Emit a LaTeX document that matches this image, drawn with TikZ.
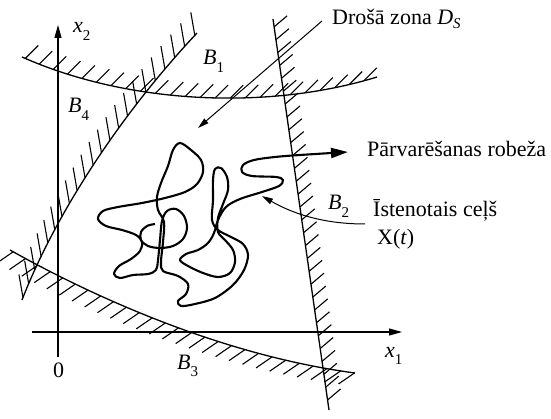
\documentclass[tikz,border=0pt]{standalone}
\usepackage{fontspec}
\setmainfont{Liberation Serif}
\usetikzlibrary{arrows.meta,decorations.markings}
\newcommand{\lsub}[1]{\raisebox{-0.33em}{\fontsize{15}{15}\selectfont #1}}
\tikzset{
  lbl/.style={font=\fontsize{22}{24}\selectfont, inner sep=0pt, anchor=base west},
  bound/.style={line width=1.3pt},
  axis/.style={line width=1.2pt, -{Triangle[length=13pt,width=7pt]}},
  leader/.style={line width=1pt, -{Triangle[length=11pt,width=6pt]}},
  walk/.style={line width=2.1pt, line join=round, -{Triangle[length=17pt,width=10pt]}},
  hatched/.style n args={3}{postaction={decorate,decoration={markings,
     mark=between positions #1 and 1 step #2 with {\pgftransformresetnontranslations
       \draw[line width=1.1pt] (0,0) -- #3;}}}}
}
\begin{document}
\begin{tikzpicture}[x=1pt,y=-1pt]
\useasboundingbox (0,0) rectangle (551,419);

% axes
\coordinate (ox) at (32,332);
\coordinate (x1tip) at (402,332);
\coordinate (oy) at (58,357);
\coordinate (x2tip) at (58,25);
\draw[axis] (ox) -- (x1tip);
\draw[axis] (oy) -- (x2tip);

% boundaries
\draw[bound, hatched={0.01}{15pt}{(13,-13)}] (22,57) .. controls (130,105) and (270,110) .. (377,77);
\draw[bound, hatched={0.01}{15pt}{(-4,-23)}] (197,33) .. controls (120,115) and (55,215) .. (22,300);
\draw[bound, hatched={0.02}{13pt}{(13,-11)}] (273,19) -- (329,410);
\draw[bound, hatched={0.01}{14pt}{(-16,11)}] (10,250) .. controls (90,295) and (220,355) .. (355,373);

% labels
\node[lbl] (x2) at (73,33) {\textit{x}\lsub{2}};
\node[lbl] (b1) at (203,65) {\textit{B}\lsub{1}};
\node[lbl] (b4) at (68,113) {\textit{B}\lsub{4}};
\node[lbl] (b3) at (177,369) {\textit{B}\lsub{3}};
\node[lbl] (b2) at (328,210) {\textit{B}\lsub{2}};
\node[lbl] (ist) at (373,217) {Īstenotais ceļš};
\node[lbl] (xt) at (377,245) {X(\textit{t})};
\node[lbl] (zero) at (53,377) {0};
\node[lbl] (x1) at (385,357) {\textit{x}\lsub{1}};
\node[lbl] (ds) at (332,25) {Drošā zona \textit{D}\raisebox{-0.15em}{\fontsize{15}{15}\selectfont\textit{S}}};
\node[lbl] (pr) at (367,157) {Pārvarēšanas robeža};

% leaders
\coordinate (dsStart) at (322,21);
\coordinate (dsTip) at (198,128);
\draw[leader] (dsStart) -- (dsTip);
\coordinate (istStart) at (365,224);
\coordinate (istTip) at (262,196);
\draw[leader] (istStart) .. controls (320,224) and (290,212) .. (istTip);

% random walk
\coordinate (walkEnd) at (348,152);
\draw[walk] plot[smooth, tension=0.55] coordinates {
 (155,224) (147,226) (141,232) (141,240) (148,246) (160,248) (173,246) (183,239) (187,228) (184,216) (176,209) (167,211) (162,221) (160,240) (158,260) (156,270)
 (148,274) (133,275) (120,278) (114,274) (119,266) (131,259) (140,251) (142,242) (136,235) (122,230) (106,226) (98,219) (103,211) (118,207) (142,203) (165,198) (185,192) (197,184) (203,172) (201,160) (191,150) (180,143) (173,150) (168,166) (161,183) (157,197) (158,210) (164,222) (163,242) (161,262) (163,271)
 (178,276) (188,284) (186,294) (178,301) (181,306) (195,304) (215,298) (233,285) (244,270) (248,255) (243,244) (231,237) (218,230) (212,220) (213,200) (213,180) (215,169) (221,168) (227,177) (228,190) (223,204) (218,218) (218,232) (225,240) (233,250) (235,262) (230,273) (218,277) (203,273) (188,266) (180,260)
 (186,254) (198,250) (208,243) (214,233) (218,220) (226,207) (240,199) (262,192) (279,186) (283,180) (276,177) (252,176) (242,172) (243,165) (254,160) (275,157) (300,155) (348,152)
};
\end{tikzpicture}
\end{document}
